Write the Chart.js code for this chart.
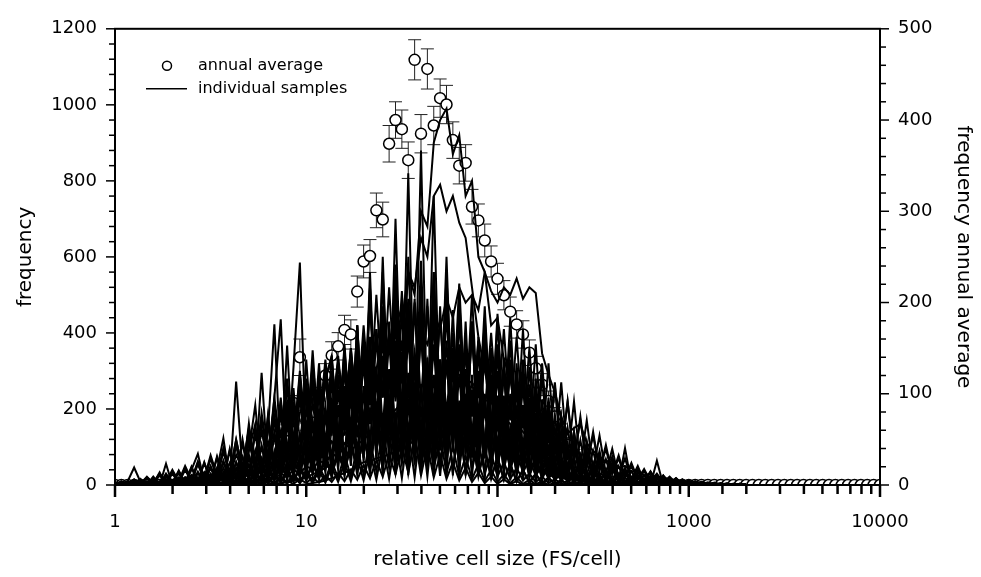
<!DOCTYPE html>
<html>
<head>
<meta charset="utf-8">
<script src="https://cdn.jsdelivr.net/npm/chart.js@4.4.1/dist/chart.umd.min.js"></script>
<style>
  html, body { margin: 0; padding: 0; background: #fff; }
  canvas { display: block; }
</style>
</head>
<body>
<canvas id="chart" width="981" height="577"></canvas>
<script>
// size classes (FS/cell), 30 per decade
const sizes = [
  1, 1.08, 1.166, 1.259, 1.359, 1.468, 1.585, 1.711, 1.848, 1.995,
  2.154, 2.326, 2.512, 2.712, 2.929, 3.162, 3.415, 3.687, 3.981, 4.299,
  4.642, 5.012, 5.412, 5.843, 6.31, 6.813, 7.356, 7.943, 8.577, 9.261,
  10, 10.8, 11.66, 12.59, 13.59, 14.68, 15.85, 17.11, 18.48, 19.95,
  21.54, 23.26, 25.12, 27.12, 29.29, 31.62, 34.15, 36.87, 39.81, 42.99,
  46.42, 50.12, 54.12, 58.43, 63.1, 68.13, 73.56, 79.43, 85.77, 92.61,
  100, 108, 116.6, 125.9, 135.9, 146.8, 158.5, 171.1, 184.8, 199.5,
  215.4, 232.6, 251.2, 271.2, 292.9, 316.2, 341.5, 368.7, 398.1, 429.9,
  464.2, 501.2, 541.2, 584.3, 631, 681.3, 735.6, 794.3, 857.7, 926.1,
  1000, 1080, 1166, 1259, 1359, 1468, 1585, 1711, 1848, 1995,
  2154, 2326, 2512, 2712, 2929, 3162, 3415, 3687, 3981, 4299,
  4642, 5012, 5412, 5843, 6310, 6813, 7356, 7943, 8577, 9261,
  10000
];

// annual average (right axis) and its error
const avgFreq = [
  0, 0, 0, 0, 0, 0, 0, 0, 0, 0,
  0, 0, 0, 1, 1, 1, 2, 2, 3, 3,
  5, 7, 10, 14, 20, 28, 40, 60, 90, 140,
  70, 80, 95, 120, 142, 152, 170, 165, 212, 245,
  251, 301, 291, 374, 400, 390, 356, 466, 385, 456,
  394, 424, 417, 378, 350, 353, 305, 290, 268, 245,
  226, 208, 190, 176, 165, 145, 128, 110, 92, 75,
  58, 44, 32, 22, 14, 9, 6, 4, 3, 2,
  1, 1, 1, 0, 1, 0, 0, 1, 0, 0,
  0, 0, 0, 0, 0, 0, 0, 0, 0, 0,
  0, 0, 0, 0, 0, 0, 0, 0, 0, 0,
  0, 0, 0, 0, 0, 0, 0, 0, 0, 0,
  0
];
const avgErr = [
  0, 0, 0, 0, 0, 0, 0, 0, 0, 0,
  0, 0, 0, 0, 0, 0, 0, 0, 0, 0,
  1, 1, 2, 2, 3, 4, 5, 6, 8, 20,
  10, 11, 12, 13, 15, 15, 16, 16, 17, 18,
  18, 19, 19, 20, 20, 21, 20, 22, 21, 22,
  21, 21, 21, 20, 20, 20, 19, 18, 18, 17,
  17, 16, 16, 15, 15, 14, 13, 12, 11, 10,
  9, 8, 7, 6, 5, 4, 3, 2, 2, 1,
  0, 0, 0, 0, 0, 0, 0, 0, 0, 0,
  0, 0, 0, 0, 0, 0, 0, 0, 0, 0,
  0, 0, 0, 0, 0, 0, 0, 0, 0, 0,
  0, 0, 0, 0, 0, 0, 0, 0, 0, 0,
  0
];

// individual samples (left axis), first 100 size classes
const s1 = [
  0, 4, 0, 0, 6, 0, 0, 3, 0, 0,
  5, 0, 8, 4, 0, 10, 6, 0, 12, 8,
  15, 10, 22, 14, 30, 20, 40, 28, 55, 45,
  70, 55, 90, 75, 115, 95, 140, 120, 170, 150,
  230, 180, 300, 260, 420, 360, 560, 500, 720, 680,
  900, 960, 990, 870, 920, 760, 800, 600, 560, 420,
  440, 330, 280, 200, 160, 110, 90, 55, 50, 30,
  35, 20, 28, 15, 22, 10, 18, 8, 12, 5,
  10, 4, 8, 0, 6, 0, 5, 0, 3, 0,
  2, 0, 3, 0, 0, 2, 0, 0, 1, 0
];
const s2 = [
  0, 0, 5, 0, 0, 0, 4, 0, 0, 6,
  0, 8, 0, 5, 12, 0, 10, 15, 8, 20,
  18, 30, 25, 40, 35, 55, 48, 70, 65, 90,
  80, 60, 110, 85, 150, 120, 200, 170, 260, 230,
  340, 300, 420, 360, 480, 430, 560, 520, 650, 600,
  760, 790, 720, 760, 690, 650, 520, 390, 300, 230,
  190, 130, 120, 80, 75, 50, 48, 30, 30, 18,
  22, 12, 15, 8, 12, 5, 8, 3, 6, 0,
  4, 0, 3, 0, 2, 0, 0, 2, 0, 0,
  0, 1, 0, 0, 2, 0, 0, 0, 1, 0
];
const s3 = [
  0, 0, 0, 3, 0, 0, 0, 0, 4, 0,
  0, 0, 5, 0, 0, 6, 0, 0, 8, 5,
  10, 6, 15, 10, 22, 15, 30, 22, 40, 30,
  50, 40, 65, 55, 85, 70, 110, 95, 140, 120,
  200, 170, 260, 220, 300, 270, 360, 320, 400, 370,
  450, 410, 490, 440, 520, 480, 500, 460, 560, 510,
  480, 520, 500, 543, 490, 520, 505, 346, 290, 244,
  180, 136, 150, 160, 110, 90, 75, 60, 70, 45,
  50, 35, 40, 25, 30, 18, 22, 12, 15, 8,
  10, 5, 8, 3, 6, 2, 4, 0, 3, 0
];
const s4 = [
  0, 5, 10, 46, 8, 0, 12, 5, 20, 10,
  30, 5, 40, 82, 10, 50, 8, 60, 15, 272,
  40, 90, 160, 30, 180, 50, 230, 60, 310, 585,
  90, 354, 110, 280, 330, 120, 350, 130, 380, 140,
  480, 150, 470, 140, 450, 130, 430, 120, 400, 110,
  370, 100, 330, 90, 290, 80, 250, 60, 200, 50,
  160, 40, 125, 30, 95, 22, 75, 15, 55, 10,
  40, 8, 30, 5, 22, 3, 16, 2, 12, 0,
  8, 2, 6, 0, 4, 0, 3, 0, 2, 0,
  0, 0, 2, 0, 0, 0, 1, 0, 0, 0
];
const s5 = [
  0, 0, 4, 0, 8, 0, 3, 33, 0, 10,
  6, 20, 2, 35, 5, 45, 8, 64, 12, 110,
  20, 162, 30, 295, 40, 230, 436, 60, 200, 80,
  330, 90, 320, 100, 340, 120, 370, 130, 420, 140,
  520, 150, 540, 160, 510, 150, 490, 140, 470, 130,
  430, 120, 380, 100, 340, 85, 290, 70, 230, 55,
  190, 45, 150, 35, 110, 25, 80, 18, 60, 12,
  45, 8, 32, 5, 25, 3, 18, 2, 14, 0,
  10, 2, 8, 0, 5, 0, 4, 0, 2, 0,
  3, 0, 0, 2, 0, 0, 1, 0, 0, 0
];
const s6 = [
  3, 0, 0, 5, 0, 10, 0, 0, 56, 0,
  12, 4, 25, 8, 30, 12, 40, 123, 10, 60,
  15, 90, 210, 30, 141, 423, 50, 367, 60, 260,
  70, 220, 80, 280, 340, 90, 360, 100, 420, 110,
  520, 120, 560, 130, 580, 140, 600, 150, 590, 140,
  560, 130, 520, 120, 470, 110, 410, 95, 350, 80,
  290, 65, 230, 50, 180, 40, 130, 30, 95, 20,
  65, 14, 45, 10, 35, 6, 24, 4, 16, 2,
  12, 0, 8, 0, 6, 0, 4, 0, 2, 0,
  2, 0, 0, 1, 0, 0, 0, 2, 0, 0
];
const s7 = [
  0, 5, 0, 10, 0, 0, 8, 0, 12, 0,
  5, 0, 15, 2, 0, 20, 3, 30, 4, 25,
  8, 38, 10, 55, 14, 75, 20, 100, 26, 130,
  35, 170, 45, 210, 55, 250, 65, 300, 75, 345,
  85, 400, 95, 430, 100, 470, 105, 480, 110, 490,
  105, 470, 100, 460, 95, 430, 85, 390, 75, 350,
  65, 300, 55, 250, 45, 210, 35, 165, 28, 125,
  20, 95, 14, 70, 10, 50, 6, 35, 4, 24,
  2, 15, 0, 10, 0, 8, 0, 5, 0, 4,
  0, 3, 0, 2, 0, 0, 2, 0, 0, 1
];
const s8 = [
  0, 0, 6, 0, 0, 4, 0, 0, 0, 8,
  0, 10, 0, 20, 2, 30, 4, 45, 6, 60,
  10, 80, 15, 105, 20, 130, 28, 160, 35, 190,
  230, 50, 260, 60, 300, 75, 340, 90, 420, 105,
  560, 120, 600, 130, 700, 140, 820, 150, 880, 145,
  760, 140, 600, 130, 500, 115, 430, 100, 360, 85,
  300, 70, 240, 55, 180, 42, 130, 30, 90, 20,
  62, 14, 42, 10, 30, 6, 20, 4, 15, 2,
  10, 0, 6, 0, 4, 0, 3, 0, 1, 0,
  0, 2, 0, 0, 1, 0, 0, 0, 0, 0
];
const s9 = [
  0, 0, 0, 4, 0, 0, 0, 5, 0, 0,
  3, 0, 6, 0, 10, 0, 12, 2, 20, 3,
  25, 5, 35, 8, 45, 10, 60, 14, 75, 18,
  115, 25, 140, 32, 180, 40, 220, 50, 260, 60,
  300, 70, 330, 80, 360, 90, 400, 95, 420, 100,
  450, 105, 460, 105, 440, 100, 430, 95, 400, 90,
  370, 80, 330, 70, 300, 60, 260, 50, 210, 40,
  180, 32, 140, 25, 115, 18, 90, 12, 75, 8,
  97, 5, 45, 4, 35, 2, 25, 0, 18, 0,
  12, 0, 8, 0, 6, 0, 4, 0, 3, 0
];
const s10 = [
  0, 3, 0, 0, 0, 4, 0, 0, 0, 0,
  0, 5, 0, 4, 0, 8, 0, 10, 0, 14,
  2, 20, 3, 28, 5, 36, 6, 45, 8, 55,
  10, 70, 14, 90, 18, 110, 22, 130, 26, 150,
  30, 180, 36, 210, 42, 240, 48, 270, 55, 300,
  60, 330, 66, 350, 70, 370, 72, 360, 70, 340,
  66, 310, 60, 270, 52, 230, 44, 190, 36, 150,
  28, 110, 20, 80, 14, 60, 10, 42, 6, 30,
  4, 22, 2, 18, 0, 64, 0, 12, 0, 8,
  0, 6, 0, 4, 0, 3, 0, 2, 0, 1
];
const s11 = [
  0, 0, 0, 0, 0, 0, 0, 0, 0, 0,
  0, 0, 0, 0, 0, 0, 0, 0, 0, 0,
  0, 0, 0, 0, 0, 0, 0, 0, 0, 0,
  2, 5, 8, 12, 18, 24, 32, 40, 50, 60,
  62, 70, 75, 80, 88, 92, 105, 118, 130, 140,
  155, 170, 185, 200, 210, 220, 228, 232, 225, 215,
  205, 190, 175, 160, 140, 120, 100, 82, 65, 50,
  38, 28, 20, 14, 9, 5, 3, 2, 1, 0,
  0, 0, 0, 0, 0, 0, 0, 0, 0, 0,
  0, 0, 0, 0, 0, 0, 0, 0, 0, 0
];
const s12 = [
  0, 0, 0, 0, 0, 0, 0, 0, 0, 0,
  0, 0, 0, 0, 0, 0, 0, 0, 0, 0,
  0, 0, 0, 0, 0, 2, 5, 8, 12, 16,
  22, 28, 36, 45, 55, 66, 78, 92, 105, 120,
  135, 150, 165, 182, 198, 215, 230, 246, 262, 275,
  285, 294, 300, 298, 290, 280, 268, 252, 235, 218,
  200, 180, 160, 140, 120, 100, 82, 66, 52, 40,
  30, 22, 16, 11, 7, 4, 2, 1, 0, 0,
  0, 0, 0, 0, 0, 0, 0, 0, 0, 0,
  0, 0, 0, 0, 0, 0, 0, 0, 0, 0
];
const s13 = [
  0, 0, 5, 0, 0, 0, 3, 0, 0, 0,
  0, 6, 0, 10, 2, 18, 5, 30, 8, 45,
  12, 70, 20, 100, 35, 140, 50, 180, 70, 230,
  90, 260, 110, 280, 140, 320, 160, 360, 190, 420,
  210, 500, 230, 520, 240, 510, 230, 490, 220, 470,
  200, 440, 180, 400, 160, 350, 130, 300, 100, 250,
  80, 200, 60, 160, 45, 120, 30, 90, 20, 65,
  12, 45, 8, 30, 5, 20, 3, 14, 0, 10,
  0, 8, 0, 5, 0, 4, 0, 3, 0, 2,
  0, 2, 0, 0, 0, 1, 0, 0, 0, 0
];
const s14 = [
  0, 0, 0, 0, 4, 0, 0, 0, 0, 3,
  0, 0, 4, 0, 8, 0, 12, 0, 18, 3,
  28, 6, 40, 10, 55, 15, 75, 22, 95, 30,
  120, 40, 150, 55, 185, 70, 220, 90, 260, 110,
  300, 130, 340, 150, 380, 170, 420, 190, 450, 200,
  480, 210, 470, 200, 450, 190, 420, 170, 380, 150,
  340, 130, 300, 110, 260, 90, 220, 70, 180, 55,
  140, 40, 110, 30, 80, 20, 60, 14, 45, 10,
  32, 6, 24, 4, 18, 3, 12, 2, 8, 0,
  6, 0, 4, 0, 3, 0, 2, 0, 1, 0
];
const s15 = [
  0, 0, 0, 0, 0, 0, 0, 0, 0, 0,
  0, 0, 0, 3, 0, 5, 0, 6, 0, 8,
  0, 12, 3, 16, 5, 22, 8, 30, 12, 40,
  16, 52, 22, 66, 30, 82, 40, 100, 50, 120,
  62, 145, 75, 170, 90, 200, 105, 230, 120, 260,
  140, 290, 150, 320, 170, 350, 180, 380, 190, 400,
  180, 410, 170, 390, 150, 360, 130, 320, 110, 270,
  90, 220, 70, 170, 55, 130, 40, 95, 30, 70,
  20, 50, 14, 36, 10, 25, 6, 18, 4, 12,
  3, 8, 2, 5, 0, 4, 0, 3, 0, 2
];
const s16 = [
  0, 4, 0, 0, 8, 0, 0, 5, 0, 12,
  0, 20, 5, 30, 10, 45, 15, 60, 25, 80,
  40, 110, 55, 140, 75, 180, 95, 220, 120, 260,
  150, 280, 180, 300, 200, 320, 220, 340, 230, 380,
  240, 410, 230, 400, 220, 380, 200, 350, 180, 320,
  160, 290, 140, 250, 120, 210, 100, 175, 80, 140,
  60, 110, 45, 85, 35, 65, 25, 50, 18, 38,
  12, 28, 8, 20, 5, 14, 3, 10, 0, 8,
  0, 6, 0, 4, 0, 3, 0, 2, 0, 0,
  0, 1, 0, 0, 0, 0, 0, 0, 0, 0
];
const s17 = [
  0, 6, 0, 12, 0, 18, 2, 25, 4, 30,
  5, 40, 8, 55, 12, 70, 20, 95, 30, 120,
  40, 150, 55, 190, 70, 230, 90, 280, 110, 300,
  130, 320, 150, 330, 160, 340, 170, 360, 165, 380,
  160, 410, 150, 380, 130, 350, 115, 310, 100, 270,
  80, 230, 65, 190, 50, 150, 40, 115, 30, 85,
  22, 60, 16, 45, 12, 30, 8, 22, 5, 15,
  3, 10, 2, 8, 0, 5, 0, 4, 0, 3,
  0, 2, 0, 0, 0, 0, 0, 0, 0, 0,
  0, 0, 0, 0, 0, 0, 0, 0, 0, 0
];
const s18 = [
  0, 0, 3, 0, 5, 0, 8, 0, 10, 0,
  14, 2, 18, 4, 24, 6, 30, 8, 40, 12,
  50, 15, 65, 20, 80, 25, 100, 30, 125, 40,
  150, 50, 180, 60, 220, 75, 260, 90, 300, 110,
  340, 120, 390, 140, 430, 160, 480, 170, 520, 180,
  560, 190, 550, 180, 530, 170, 500, 160, 470, 140,
  430, 120, 380, 100, 330, 80, 280, 65, 230, 50,
  180, 40, 140, 30, 110, 22, 80, 15, 60, 10,
  45, 8, 35, 5, 25, 4, 18, 3, 12, 2,
  8, 0, 6, 0, 4, 0, 3, 0, 2, 0
];
const s19 = [
  0, 0, 0, 0, 0, 0, 0, 0, 0, 0,
  0, 0, 2, 0, 4, 0, 5, 0, 8, 0,
  10, 2, 14, 3, 18, 5, 24, 6, 30, 8,
  40, 10, 50, 14, 62, 18, 80, 22, 100, 28,
  120, 35, 150, 45, 180, 55, 210, 65, 250, 75,
  290, 90, 330, 100, 370, 110, 410, 120, 440, 130,
  450, 130, 440, 120, 410, 110, 370, 95, 320, 80,
  270, 65, 220, 50, 170, 40, 130, 30, 95, 20,
  70, 15, 50, 10, 36, 8, 25, 5, 18, 3,
  12, 2, 8, 0, 6, 0, 4, 0, 3, 0
];
const s20 = [
  2, 10, 0, 15, 3, 22, 5, 30, 8, 40,
  10, 50, 14, 62, 18, 78, 25, 95, 32, 118,
  40, 145, 50, 175, 65, 215, 80, 260, 95, 290,
  110, 310, 125, 320, 130, 330, 130, 330, 125, 320,
  110, 310, 95, 285, 80, 245, 65, 205, 50, 165,
  40, 130, 30, 100, 22, 75, 15, 55, 10, 40,
  8, 28, 5, 20, 3, 14, 2, 10, 0, 6,
  0, 4, 0, 3, 0, 2, 0, 0, 0, 0,
  0, 0, 0, 0, 0, 0, 0, 0, 0, 0,
  0, 0, 0, 0, 0, 0, 0, 0, 0, 0
];
const s21 = [
  0, 0, 5, 0, 8, 0, 10, 2, 14, 3,
  20, 5, 26, 8, 34, 10, 45, 14, 58, 18,
  74, 25, 92, 32, 115, 42, 140, 55, 170, 70,
  200, 85, 235, 100, 270, 115, 310, 130, 350, 150,
  390, 165, 425, 180, 455, 190, 480, 200, 500, 205,
  495, 200, 480, 190, 455, 180, 420, 165, 385, 150,
  345, 130, 300, 110, 255, 92, 212, 75, 172, 60,
  136, 46, 105, 35, 80, 26, 60, 18, 44, 12,
  32, 8, 24, 5, 17, 4, 12, 3, 9, 2,
  6, 0, 4, 0, 3, 0, 2, 0, 1, 0
];
const s22 = [
  0, 0, 0, 0, 0, 0, 0, 0, 0, 0,
  0, 2, 0, 3, 0, 5, 0, 7, 0, 10,
  3, 14, 4, 18, 6, 24, 8, 32, 10, 42,
  14, 55, 18, 70, 24, 88, 30, 110, 38, 135,
  45, 165, 55, 195, 65, 230, 75, 265, 85, 300,
  90, 330, 95, 360, 95, 380, 95, 375, 90, 360,
  85, 335, 78, 300, 70, 265, 60, 225, 50, 185,
  40, 150, 32, 118, 25, 90, 18, 68, 12, 50,
  8, 36, 5, 26, 4, 18, 3, 12, 2, 8,
  0, 6, 0, 4, 0, 3, 0, 2, 0, 1
];
const s23 = [
  0, 0, 8, 0, 14, 0, 20, 0, 28, 3,
  36, 5, 46, 8, 58, 10, 72, 14, 90, 18,
  110, 24, 135, 30, 160, 38, 190, 46, 220, 55,
  250, 65, 280, 75, 300, 85, 310, 90, 320, 95,
  330, 95, 330, 90, 310, 85, 280, 75, 250, 65,
  215, 55, 180, 45, 150, 36, 120, 28, 95, 20,
  72, 15, 55, 10, 40, 8, 30, 5, 20, 3,
  14, 2, 10, 0, 7, 0, 5, 0, 3, 0,
  2, 0, 0, 0, 0, 0, 0, 0, 0, 0,
  0, 0, 0, 0, 0, 0, 0, 0, 0, 0
];
const s24 = [
  0, 0, 0, 0, 0, 0, 0, 0, 0, 0,
  0, 0, 0, 0, 0, 0, 0, 2, 0, 3,
  0, 4, 0, 6, 1, 8, 2, 11, 3, 15,
  5, 20, 6, 25, 8, 32, 10, 40, 14, 52,
  18, 65, 22, 80, 28, 98, 34, 120, 42, 150,
  50, 180, 58, 210, 66, 240, 74, 265, 80, 290,
  85, 310, 88, 320, 86, 310, 82, 290, 75, 260,
  66, 220, 56, 180, 46, 140, 36, 105, 28, 78,
  20, 58, 15, 42, 10, 30, 7, 22, 5, 15,
  3, 10, 2, 7, 0, 5, 0, 3, 0, 2
];
const s25 = [
  0, 8, 2, 14, 4, 20, 6, 28, 8, 36,
  10, 45, 12, 58, 15, 72, 18, 88, 22, 105,
  26, 125, 30, 150, 35, 175, 40, 210, 45, 250,
  50, 290, 55, 300, 55, 290, 52, 270, 48, 250,
  44, 220, 40, 190, 35, 160, 30, 130, 25, 105,
  20, 80, 16, 60, 12, 45, 8, 32, 5, 22,
  3, 15, 2, 10, 0, 6, 0, 4, 0, 2,
  0, 0, 0, 0, 0, 0, 0, 0, 0, 0,
  0, 0, 0, 0, 0, 0, 0, 0, 0, 0,
  0, 0, 0, 0, 0, 0, 0, 0, 0, 0
];
const s26 = [
  4, 0, 10, 0, 16, 0, 22, 2, 30, 4,
  38, 6, 48, 8, 60, 10, 75, 14, 95, 18,
  120, 22, 150, 28, 185, 35, 220, 42, 255, 50,
  280, 58, 290, 65, 300, 70, 310, 72, 330, 72,
  355, 70, 340, 66, 320, 60, 295, 54, 265, 48,
  230, 40, 195, 34, 160, 28, 130, 22, 100, 16,
  75, 12, 55, 8, 40, 5, 28, 3, 18, 2,
  12, 0, 8, 0, 5, 0, 3, 0, 2, 0,
  0, 0, 0, 0, 0, 0, 0, 0, 0, 0,
  0, 0, 0, 0, 0, 0, 0, 0, 0, 0
];
const s27 = [
  0, 0, 0, 5, 0, 8, 0, 10, 0, 12,
  2, 16, 0, 20, 3, 26, 0, 34, 5, 42,
  8, 55, 10, 70, 12, 88, 15, 110, 18, 135,
  20, 160, 22, 185, 25, 210, 28, 235, 30, 260,
  32, 285, 30, 305, 28, 320, 26, 330, 25, 335,
  24, 330, 22, 320, 20, 305, 18, 285, 15, 260,
  14, 235, 12, 205, 10, 175, 8, 145, 6, 115,
  5, 90, 4, 68, 3, 50, 2, 36, 0, 26,
  0, 18, 0, 12, 0, 8, 0, 6, 0, 4,
  0, 3, 0, 2, 0, 0, 0, 1, 0, 0
];
const s28 = [
  0, 0, 0, 0, 0, 0, 0, 0, 0, 0,
  0, 0, 0, 0, 3, 0, 4, 0, 6, 0,
  8, 0, 10, 0, 14, 2, 18, 3, 24, 4,
  30, 5, 38, 6, 48, 8, 60, 10, 72, 12,
  88, 14, 105, 16, 125, 18, 145, 20, 165, 22,
  185, 24, 205, 25, 222, 25, 235, 24, 240, 22,
  235, 20, 225, 18, 210, 15, 190, 12, 165, 10,
  140, 8, 115, 6, 90, 4, 70, 3, 52, 2,
  38, 0, 27, 0, 19, 0, 13, 0, 9, 0,
  6, 0, 4, 0, 3, 0, 2, 0, 1, 0
];
const samples = [s1, s2, s3, s4, s5, s6, s7, s8, s9, s10, s11, s12, s13, s14,
                 s15, s16, s17, s18, s19, s20, s21, s22, s23, s24, s25, s26, s27, s28];

const xLabels = [1, 10, 100, 1000, 10000];
const seriesNames = ['annual average', 'individual samples'];

Chart.defaults.font.family = "'DejaVu Sans', sans-serif";
Chart.defaults.color = '#000';

const datasets = samples.map((vals, n) => ({
    label: n === 0 ? seriesNames[1] : '',
    data: vals.map((v, i) => ({ x: sizes[i], y: v })),
    yAxisID: 'y',
    borderColor: '#000',
    borderWidth: 2,
    pointRadius: 0,
    tension: 0,
    order: 0
}));

datasets.push({
    label: seriesNames[0],
    data: avgFreq.map((v, i) => ({ x: sizes[i], y: v })),
    yAxisID: 'y1',
    showLine: false,
    pointRadius: 5.5,
    pointBorderWidth: 1.5,
    pointBackgroundColor: '#fff',
    pointBorderColor: '#000',
    order: 1
});

// error bars under the average circles
const errorBars = {
    id: 'errorBars',
    beforeDatasetDraw(chart, args) {
        const ds = chart.data.datasets[args.index];
        if (ds.label !== seriesNames[0]) return;
        const ctx = chart.ctx, xs = chart.scales.x, ys = chart.scales.y1;
        ctx.save();
        ctx.strokeStyle = '#222';
        ctx.lineWidth = 1;
        ds.data.forEach((p, i) => {
            const e = avgErr[i];
            if (e < 3) return;
            const px = xs.getPixelForValue(p.x);
            const top = ys.getPixelForValue(p.y + e);
            const bot = ys.getPixelForValue(p.y - e);
            ctx.beginPath();
            ctx.moveTo(px, top); ctx.lineTo(px, bot);
            ctx.moveTo(px - 6.5, top); ctx.lineTo(px + 6.5, top);
            ctx.moveTo(px - 6.5, bot); ctx.lineTo(px + 6.5, bot);
            ctx.stroke();
        });
        ctx.restore();
    }
};

// frame, outward tick marks and the legend box
const frame = {
    id: 'frame',
    afterDraw(chart) {
        const { ctx, chartArea: a, scales } = chart;
        ctx.save();
        ctx.strokeStyle = '#000';

        ctx.lineWidth = 2.5;
        scales.x.ticks.forEach(t => {
            const px = scales.x.getPixelForValue(t.value);
            const len = xLabels.includes(t.value) ? 12 : 9;
            ctx.beginPath(); ctx.moveTo(px, a.bottom); ctx.lineTo(px, a.bottom + len); ctx.stroke();
        });
        ctx.lineWidth = 1.5;
        scales.y.ticks.forEach(t => {
            const py = scales.y.getPixelForValue(t.value);
            const len = t.value % 200 === 0 ? 9 : 6;
            ctx.beginPath(); ctx.moveTo(a.left - len, py); ctx.lineTo(a.left, py); ctx.stroke();
        });
        scales.y1.ticks.forEach(t => {
            const py = scales.y1.getPixelForValue(t.value);
            const len = t.value % 100 === 0 ? 9 : 6;
            ctx.beginPath(); ctx.moveTo(a.right, py); ctx.lineTo(a.right + len, py); ctx.stroke();
        });

        ctx.lineWidth = 2;
        ctx.strokeRect(a.left, a.top, a.right - a.left, a.bottom - a.top);

        // legend
        const lx = a.left + 52, ly = a.top + 37;
        ctx.lineWidth = 1.5;
        ctx.fillStyle = '#fff';
        ctx.beginPath(); ctx.arc(lx, ly, 4.5, 0, Math.PI * 2); ctx.fill(); ctx.stroke();
        ctx.beginPath(); ctx.moveTo(lx - 21, ly + 23); ctx.lineTo(lx + 20, ly + 23); ctx.stroke();
        ctx.fillStyle = '#000';
        ctx.font = "16px 'DejaVu Sans'";
        ctx.textBaseline = 'middle';
        ctx.fillText(seriesNames[0], lx + 31, ly);
        ctx.fillText(seriesNames[1], lx + 31, ly + 23);
        ctx.restore();
    }
};

new Chart(document.getElementById('chart'), {
    type: 'line',
    data: { datasets: datasets },
    plugins: [errorBars, frame],
    options: {
        responsive: false,
        animation: false,
        layout: { padding: { top: 17, left: 0, right: 0, bottom: 0 } },
        plugins: {
            legend: { display: false },
            tooltip: { enabled: false }
        },
        scales: {
            x: {
                type: 'logarithmic',
                position: 'bottom',
                min: 1,
                max: 10000,
                grid: { display: false, drawTicks: false },
                border: { display: false },
                ticks: {
                    autoSkip: false,
                    maxRotation: 0,
                    padding: 27,
                    font: { size: 18 },
                    callback: v => xLabels.includes(v) ? String(v) : ''
                },
                title: {
                    display: true,
                    text: 'relative cell size (FS/cell)',
                    font: { size: 20 },
                    padding: { top: 0, bottom: 5 }
                },
                afterFit: s => { s.height = 92; }
            },
            y: {
                position: 'left',
                min: 0,
                max: 1200,
                grid: { display: false, drawTicks: false },
                border: { display: false },
                ticks: {
                    stepSize: 40,
                    autoSkip: false,
                    padding: 18,
                    font: { size: 18 },
                    callback: v => v % 200 === 0 ? v : ''
                },
                title: {
                    display: true,
                    text: 'frequency',
                    font: { size: 20 },
                    padding: { top: 14, bottom: 0 }
                },
                afterFit: s => { s.width = 115; }
            },
            y1: {
                position: 'right',
                min: 0,
                max: 500,
                grid: { display: false, drawTicks: false },
                border: { display: false },
                ticks: {
                    stepSize: 20,
                    autoSkip: false,
                    padding: 18,
                    font: { size: 18 },
                    callback: v => v % 100 === 0 ? v : ''
                },
                title: {
                    display: true,
                    text: 'frequency annual average',
                    font: { size: 20 },
                    padding: { top: 6, bottom: 0 }
                },
                afterFit: s => { s.width = 101; }
            }
        }
    }
});
</script>
</body>
</html>
